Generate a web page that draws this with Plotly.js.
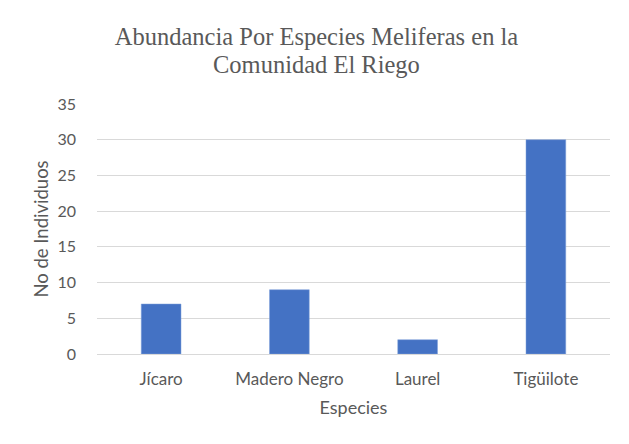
<!DOCTYPE html>
<html>
<head>
<meta charset="utf-8">
<script src="https://cdn.plot.ly/plotly-3.0.1.min.js"></script>
<style>html,body{margin:0;padding:0;background:#fff;}#chart{width:629px;height:444px;}</style>
</head>
<body>
<div id="chart"></div>
<script>
const categories = ["Jícaro", "Madero Negro", "Laurel", "Tigüilote"];
const individuos = [7, 9, 2, 30];
const yTicks = [0, 5, 10, 15, 20, 25, 30, 35];
const titleLines = ["Abundancia Por Especies Meliferas en la", "Comunidad El Riego"];

const grey = "#595959";
const titleFont = {family: "Liberation Serif, Times New Roman, serif", size: 24.5, color: grey};

const trace = {
  type: "bar",
  x: categories,
  y: individuos,
  marker: {color: "#4472C4", line: {color: "#7FA0DA", width: 0.5}},
  hoverinfo: "x+y"
};

const layout = {
  width: 629, height: 444,
  paper_bgcolor: "#fff", plot_bgcolor: "#fff",
  margin: {l: 97, r: 19, t: 104, b: 90},
  bargap: 0.69,
  showlegend: false,
  title: {
    text: titleLines[0],
    font: titleFont,
    x: 316.5 / 629, xanchor: "center", y: 1 - 36 / 444, yanchor: "middle"
  },
  annotations: [{
    text: titleLines[1], font: titleFont, showarrow: false,
    xref: "paper", yref: "paper",
    x: (316.5 - 97) / 513, xanchor: "center",
    y: (354 - 64) / 250, yanchor: "middle"
  }],
  xaxis: {
    type: "category",
    tickfont: {family: "Lato, Carlito, sans-serif", size: 17, color: grey},
    showgrid: false, zeroline: false, showline: false, ticks: "",
    ticklabelstandoff: 13,
    title: {text: "Especies", font: {family: "Lato, sans-serif", size: 18, color: grey}, standoff: 13}
  },
  yaxis: {
    range: [0, 35], tickvals: yTicks, ticktext: yTicks.map(String),
    tickfont: {family: "Lato, Carlito, sans-serif", size: 16, color: grey},
    showgrid: true, gridcolor: "#d9d9d9", gridwidth: 1,
    zeroline: true, zerolinecolor: "#d9d9d9", zerolinewidth: 1,
    showline: false, ticks: "", ticklabelstandoff: 20,
    title: {text: "No de Individuos", font: {family: "Lato, sans-serif", size: 18.5, color: grey}, standoff: 3}
  }
};

Plotly.newPlot("chart", [trace], layout, {displayModeBar: false, staticPlot: true});
</script>
</body>
</html>
